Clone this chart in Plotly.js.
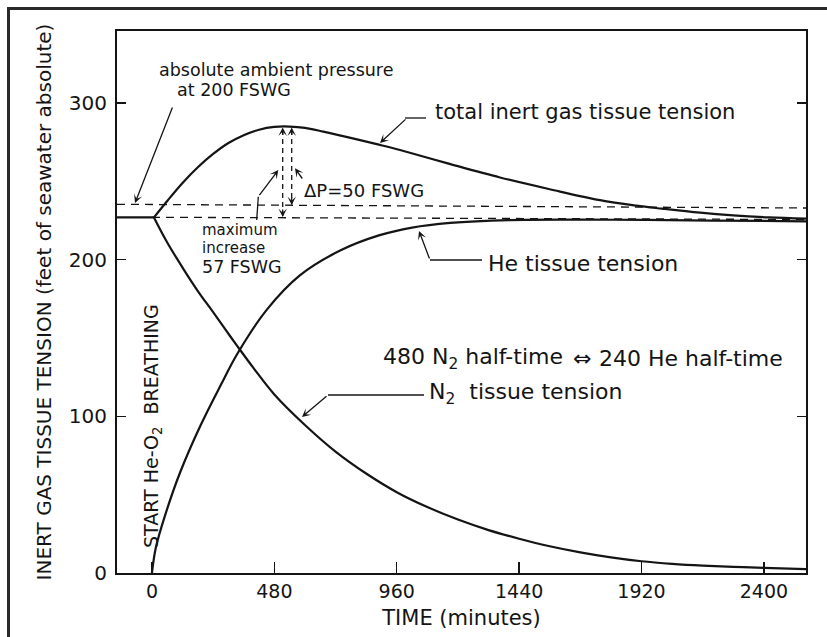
<!DOCTYPE html>
<html>
<head>
<meta charset="utf-8">
<script src="https://cdn.plot.ly/plotly-3.0.1.min.js"></script>
<style>
  html, body { margin: 0; padding: 0; background: #fff; overflow: hidden; }
  #frame { position: absolute; left: 7px; top: 7px; width: 900px; height: 700px;
           border-left: 3px solid #2a2a2a; border-top: 3px solid #2a2a2a; pointer-events: none; }
  #chart { width: 827px; height: 637px; }
</style>
</head>
<body>
<div id="chart"></div>
<div id="frame"></div>
<script>
// ---------------- data ----------------
// time in minutes, tensions in feet of seawater absolute
const preTime = [-137, 8];
const preTension = [227, 227];

const totalTime = [8, 60, 120, 180, 240, 300, 360, 420, 480, 540, 600, 672, 800, 894, 973, 1160, 1365, 1560, 1757, 1900, 2000, 2150, 2280, 2420, 2565];
const totalTension = [227, 237.5, 249, 259, 267.5, 274.5, 279.5, 283, 284.8, 285, 284.2, 281.8, 277, 273.3, 270, 261.5, 252.5, 245, 238, 234.5, 232.6, 230, 228.3, 227, 226.2];

const heTime = [0, 15, 50, 110, 190, 270, 335, 450, 580, 740, 890, 1020, 1170, 1400, 1800, 2200, 2565];
const heTension = [0, 16, 36, 64, 94, 120, 140, 168, 190, 206, 215.5, 220.5, 223.5, 225.3, 225.5, 225, 224.5];

const n2Time = [8, 60, 120, 180, 240, 290, 332, 400, 480, 600, 720, 840, 960, 1080, 1200, 1320, 1440, 1560, 1680, 1800, 1920, 2040, 2160, 2280, 2400, 2565];
const n2Tension = [227, 211, 195, 180, 166.5, 155, 145.5, 130.5, 114, 94.5, 77.5, 63.5, 51.6, 42.1, 34.1, 27.4, 21.9, 17.1, 13.2, 10, 7.5, 5.85, 4.7, 3.9, 3.3, 2.5];

const xTickVals = [0, 480, 960, 1440, 1920, 2400];
const xTickText = ['0', '480', '960', '1440', '1920', '2400'];
const yTickVals = [0, 100, 200, 300];
const yTickText = ['0', '100', '200', '300'];

// ---------------- layout helpers ----------------
const FONT = 'DejaVu Sans';
const INK = '#141414';
const XR = [-137, 2565], YR = [0, 346];
const PL = 117, PR = 806, PT = 31, PB = 573;   // plot area in page pixels
function PX(px) { return XR[0] + (px - PL) / (PR - PL) * (XR[1] - XR[0]); }
function PY(py) { return YR[0] + (PB - py) / (PB - PT) * (YR[1] - YR[0]); }

function label(text, px, py, size, anchor, extra) {
  return Object.assign({
    text: text, x: PX(px), y: PY(py), xref: 'x', yref: 'y',
    xanchor: anchor || 'left', yanchor: 'middle', showarrow: false,
    font: { family: FONT, size: size, color: INK }
  }, extra || {});
}
function arrow(px, py, axOff, ayOff) {
  return {
    text: '', x: PX(px), y: PY(py), xref: 'x', yref: 'y',
    ax: axOff, ay: ayOff, showarrow: true, arrowhead: 3, arrowsize: 1.1,
    arrowwidth: 1.3, arrowcolor: INK, standoff: 0
  };
}
function seg(px0, py0, px1, py1, dash, w) {
  return {
    type: 'line', xref: 'x', yref: 'y',
    x0: PX(px0), y0: PY(py0), x1: PX(px1), y1: PY(py1),
    line: { color: INK, width: w || 1.3, dash: dash || 'solid' }
  };
}

const curveLine = { color: INK, width: 2.2, shape: 'spline', smoothing: 1 };

const traces = [
  { x: preTime, y: preTension, mode: 'lines', line: { color: INK, width: 2.2 }, name: 'before switch' },
  { x: totalTime, y: totalTension, mode: 'lines', line: curveLine, name: 'total inert gas tissue tension' },
  { x: heTime, y: heTension, mode: 'lines', line: curveLine, name: 'He tissue tension' },
  { x: n2Time, y: n2Tension, mode: 'lines', line: curveLine, name: 'N2 tissue tension' }
];

const annotations = [
  label('absolute ambient pressure', 157, 69.5, 17.5),
  label('at 200 FSWG', 175, 90, 17.5),
  label('total inert gas tissue tension', 433, 112, 21),
  label('\u0394P=50 FSWG', 302, 190.5, 18),
  label('maximum', 200, 230, 15),
  label('increase', 200, 247.5, 15),
  label('57 FSWG', 200, 266.5, 17.5),
  label('He tissue tension', 486, 263, 22),
  label('480 N<sub>2</sub> half-time', 381, 358, 22),
  label('\u21D4', 582, 358, 22, 'center'),
  label('240 He half-time', 597, 358, 22),
  label('N<sub>2</sub>  tissue tension', 427, 393, 22),
  label('START He-O<sub>2</sub>  BREATHING', 152, 426, 19, 'center', { textangle: -90 }),
  // arrows
  arrow(135, 203, 38, -97),          // ambient pressure
  arrow(380, 143, 27, -25),          // total
  arrow(419, 231, 11, 29),           // He
  arrow(302, 417, 26, -22),          // N2
  arrow(278.3, 170, -20, 26.7),      // maximum increase
  arrow(295, 168.3, 8.3, 11.7),      // delta P
  arrow(282.7, 127.5, 0, 9),         // double-headed dashed verticals
  arrow(282.7, 217, 0, -9),
  arrow(291.7, 127.5, 0, 9),
  arrow(291.7, 205, 0, -9)
];

const shapes = [
  seg(PL, 204.3, PR, 208, '8px,6px', 1.3),      // ambient pressure at 200 FSWG
  seg(152, 217.3, PR, 219.5, '8px,6px', 1.3),   // initial inert gas level
  seg(282.7, 130, 282.7, 216, '5px,4px', 1.3),  // maximum increase 57
  seg(291.7, 130, 291.7, 204, '5px,4px', 1.3),  // delta P 50
  seg(405, 118, 426, 118),                      // total label leader
  seg(430, 260, 482, 260),                      // He label leader
  seg(328, 395, 424, 395),                      // N2 label leader
  seg(256.7, 220, 258.3, 196.7)                 // maximum increase leader
];

const axisCommon = {
  showline: true, linecolor: INK, linewidth: 2, showgrid: false, zeroline: false,
  ticks: 'inside', tickcolor: INK, tickwidth: 1.5, automargin: false
};

const layout = {
  width: 827, height: 637,
  margin: { l: PL, r: 827 - PR, t: PT, b: 637 - PB },
  paper_bgcolor: '#fff', plot_bgcolor: '#fff',
  showlegend: false,
  font: { family: FONT, color: INK },
  xaxis: Object.assign({}, axisCommon, {
    range: XR, tickvals: xTickVals, ticktext: xTickText, ticklen: 11, mirror: true,
    tickfont: { family: FONT, size: 19, color: INK },
    title: { text: 'TIME (minutes)', font: { family: FONT, size: 21, color: INK }, standoff: 10 }
  }),
  yaxis: Object.assign({}, axisCommon, {
    range: YR, tickvals: yTickVals, ticktext: yTickText, ticklen: 9, mirror: 'ticks',
    tickfont: { family: FONT, size: 20, color: INK }, ticklabelstandoff: 4,
    title: { text: 'INERT GAS TISSUE TENSION (feet of seawater absolute)', font: { family: FONT, size: 20, color: INK }, standoff: 12 }
  }),
  annotations: annotations,
  shapes: shapes
};

Plotly.newPlot('chart', traces, layout, { displayModeBar: false, staticPlot: true });
</script>
</body>
</html>
